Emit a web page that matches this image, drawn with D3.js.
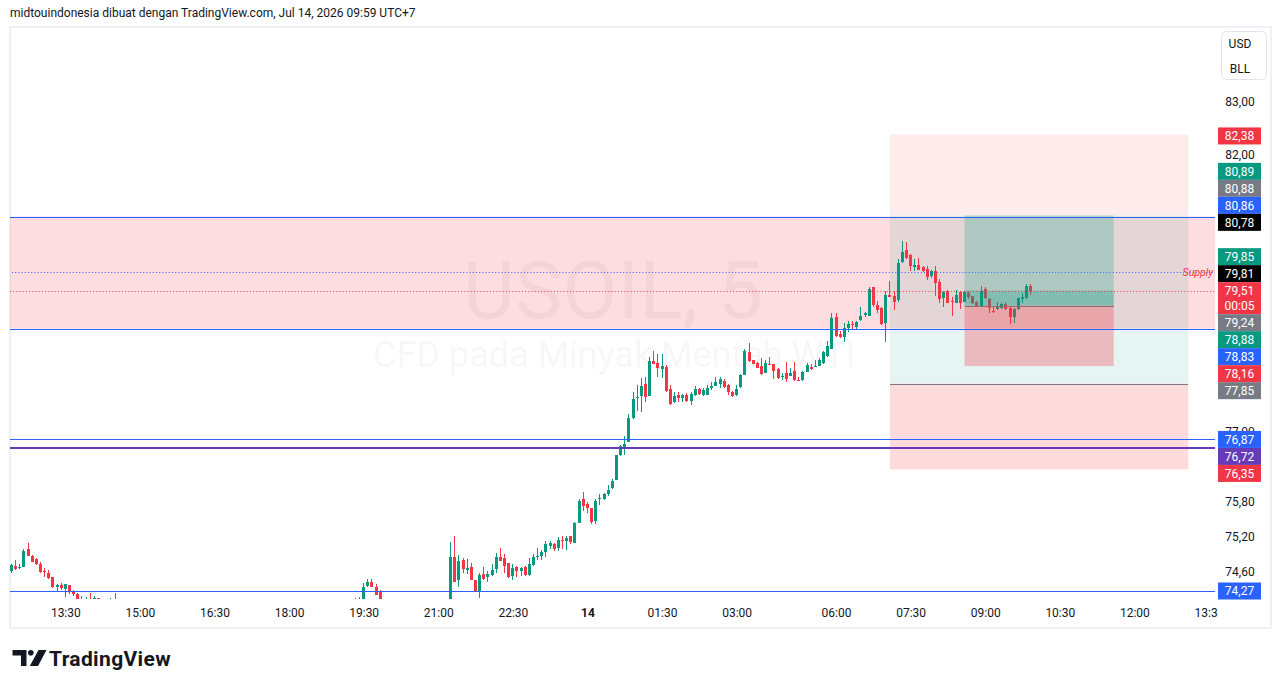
<!DOCTYPE html>
<html><head><meta charset="utf-8">
<script src="https://cdn.jsdelivr.net/npm/d3@7/dist/d3.min.js"></script>
<style>html,body{margin:0;padding:0;background:#fff;}svg{display:block;}</style>
</head><body>
<svg id="chart" width="1281" height="688"></svg>
<script>
// ================= DATA =================
// 5-minute candles (Jul 13 -> Jul 14 2026, UTC+7); candles hidden below the visible range are omitted
const times = [
"12:25","12:30","12:35","12:40","12:45","12:50","12:55","13:00","13:05","13:10","13:15","13:20",
"13:25","13:30","13:35","13:40","13:45","13:50","13:55","14:00","14:05","14:10","14:25","14:30",
"19:20","19:25","19:30","19:35","19:40","19:45","19:50",
"21:15","21:20","21:25","21:30","21:35","21:40","21:45","21:50","21:55",
"22:00","22:05","22:10","22:15","22:20","22:25","22:30","22:35","22:40","22:45","22:50","22:55",
"23:00","23:05","23:10","23:15","23:20","23:25","23:30","23:35","23:40","23:45","23:50","23:55",
"00:00","00:05","00:10","00:15","00:20","00:25","00:30","00:35","00:40","00:45","00:50","00:55",
"01:00","01:05","01:10","01:15","01:20","01:25","01:30","01:35","01:40","01:45","01:50","01:55",
"02:00","02:05","02:10","02:15","02:20","02:25","02:30","02:35","02:40","02:45","02:50","02:55",
"03:00","03:05","03:10","03:15","03:20","03:25","03:30","03:35","03:40","03:45","03:50","03:55",
"05:00","05:05","05:10","05:15","05:20","05:25","05:30","05:35","05:40","05:45","05:50","05:55",
"06:00","06:05","06:10","06:15","06:20","06:25","06:30","06:35","06:40","06:45","06:50","06:55",
"07:00","07:05","07:10","07:15","07:20","07:25","07:30","07:35","07:40","07:45","07:50","07:55",
"08:00","08:05","08:10","08:15","08:20","08:25","08:30","08:35","08:40","08:45","08:50","08:55",
"09:00","09:05","09:10","09:15","09:20","09:25","09:30","09:35","09:40","09:45","09:50","09:55"
];
const opens = [
74.60,74.69,74.66,74.68,74.98,74.87,74.81,74.72,74.61,74.57,74.50,74.33,
74.37,74.30,74.37,74.26,74.22,74.13,74.07,74.12,74.14,74.15,74.06,74.12,
74.07,74.08,74.08,74.36,74.43,74.34,74.27,
74.02,74.85,74.46,74.80,74.63,74.67,74.46,74.26,74.56,
74.50,74.54,74.65,74.85,74.83,74.74,74.53,74.68,74.61,74.68,74.54,74.71,
74.84,74.87,74.93,75.04,75.06,75.00,75.14,75.12,75.20,75.09,75.43,75.84,
75.75,75.68,75.46,75.83,75.84,75.93,76.02,76.17,76.59,76.73,76.83,77.24,
77.60,77.64,77.84,77.64,78.25,78.22,78.11,78.15,77.75,77.52,77.65,77.60,
77.65,77.54,77.65,77.75,77.65,77.65,77.78,77.81,77.84,77.90,77.83,77.71,
77.65,77.79,78.00,78.41,78.27,78.22,78.16,78.03,78.20,78.19,78.11,77.96,
78.04,77.99,78.07,77.91,77.91,78.05,78.15,78.15,78.17,78.21,78.34,78.46,
79.04,78.73,78.67,78.84,78.91,78.86,78.98,79.07,79.06,79.57,79.25,79.20,
78.93,79.43,79.41,79.34,80.03,80.24,80.16,79.93,79.98,79.94,79.90,79.78,
79.86,79.66,79.37,79.50,79.32,79.29,79.48,79.31,79.46,79.41,79.31,79.23,
79.54,79.36,79.15,79.18,79.19,79.27,79.20,79.03,79.18,79.36,79.37,79.60
];
const highs = [
74.73,74.79,74.73,74.98,75.08,74.88,74.83,74.76,74.66,74.63,74.51,74.39,
74.40,74.39,74.37,74.29,74.24,74.19,74.17,74.24,74.18,74.16,74.15,74.23,
74.15,74.17,74.40,74.47,74.47,74.39,74.28,
75.10,75.20,74.88,74.82,74.81,74.74,74.46,74.57,74.67,
74.61,74.72,74.91,75.00,74.89,74.75,74.72,74.70,74.68,74.69,74.82,74.89,
74.99,74.97,75.11,75.12,75.08,75.18,75.20,75.21,75.21,75.44,75.83,75.96,
75.78,75.69,75.83,75.93,75.94,76.08,76.19,76.60,76.77,76.93,77.31,77.71,
77.83,77.95,77.96,78.32,78.43,78.37,78.38,78.18,77.83,77.71,77.70,77.67,
77.68,77.70,77.80,77.77,77.78,77.83,77.88,77.96,77.96,77.94,77.84,77.72,
77.83,78.02,78.46,78.57,78.27,78.24,78.31,78.26,78.33,78.19,78.13,78.03,
78.24,78.13,78.24,77.97,78.07,78.22,78.19,78.27,78.30,78.43,78.60,79.10,
79.11,78.79,78.93,78.97,78.97,78.96,79.22,79.13,79.57,79.58,79.32,79.21,
79.50,79.69,79.50,80.09,80.41,80.39,80.17,80.08,80.10,79.95,79.96,79.88,
79.96,79.72,79.50,79.52,79.40,79.52,79.51,79.50,79.50,79.42,79.32,79.59,
79.57,79.37,79.21,79.31,79.28,79.31,79.21,79.19,79.38,79.47,79.63,79.63
];
const lows = [
74.58,74.63,74.64,74.67,74.86,74.76,74.71,74.58,74.51,74.47,74.32,74.25,
74.29,74.17,74.22,74.19,74.07,74.02,74.05,74.03,74.10,74.12,74.03,74.03,
74.05,74.06,74.05,74.34,74.33,74.20,74.05,
73.98,74.42,74.34,74.57,74.55,74.45,74.26,74.16,74.46,
74.42,74.53,74.57,74.77,74.58,74.49,74.46,74.51,74.52,74.52,74.53,74.69,
74.80,74.80,74.85,74.98,74.94,74.94,74.98,74.97,75.07,75.08,75.43,75.63,
75.59,75.40,75.41,75.74,75.82,75.89,76.01,76.16,76.58,76.60,76.83,77.23,
77.36,77.35,77.53,77.63,78.19,77.97,77.95,77.71,77.48,77.51,77.53,77.53,
77.53,77.48,77.64,77.65,77.64,77.65,77.74,77.80,77.78,77.78,77.65,77.61,
77.63,77.78,78.00,78.23,78.19,78.13,78.01,78.03,78.18,77.94,77.94,77.91,
77.87,77.98,77.90,77.89,77.90,78.05,78.09,78.15,78.16,78.20,78.33,78.46,
78.67,78.66,78.58,78.76,78.83,78.83,78.97,79.04,79.05,79.22,79.11,78.90,
78.58,79.39,79.16,79.31,80.01,80.09,79.86,79.86,79.88,79.85,79.71,79.74,
79.42,79.28,79.22,79.28,79.06,79.28,79.18,79.30,79.36,79.27,79.22,79.22,
79.36,79.11,79.11,79.17,79.18,79.17,78.91,78.93,79.17,79.29,79.36,79.43
];
const closes = [
74.71,74.64,74.68,74.95,74.87,74.76,74.73,74.59,74.60,74.49,74.33,74.37,
74.32,74.39,74.26,74.22,74.08,74.05,74.12,74.05,74.15,74.13,74.11,74.05,
74.12,74.13,74.34,74.43,74.34,74.21,74.08,
74.84,74.43,74.78,74.65,74.66,74.46,74.27,74.54,74.47,
74.56,74.63,74.85,74.78,74.69,74.50,74.66,74.60,74.66,74.54,74.72,74.85,
74.87,74.93,75.06,75.08,74.98,75.14,75.13,75.17,75.10,75.43,75.81,75.72,
75.68,75.44,75.80,75.86,75.92,75.99,76.15,76.59,76.76,76.79,77.24,77.57,
77.61,77.80,77.62,78.25,78.19,78.12,78.17,77.72,77.49,77.64,77.60,77.65,
77.54,77.66,77.75,77.66,77.73,77.77,77.81,77.87,77.93,77.79,77.70,77.63,
77.75,78.01,78.43,78.25,78.19,78.13,78.02,78.22,78.19,78.08,77.95,77.99,
77.94,78.04,77.91,77.90,78.06,78.18,78.11,78.17,78.26,78.41,78.51,79.01,
78.70,78.67,78.84,78.91,78.90,78.95,79.06,79.10,79.54,79.25,79.16,78.91,
79.43,79.40,79.31,80.01,80.21,80.10,79.95,79.98,79.89,79.86,79.75,79.87,
79.65,79.36,79.48,79.29,79.31,79.44,79.29,79.48,79.40,79.28,79.23,79.50,
79.37,79.19,79.14,79.22,79.27,79.18,79.03,79.18,79.37,79.39,79.60,79.51
];

// time axis
const xTickTimes  = ["13 13:30","13 15:00","13 16:30","13 18:00","13 19:30","13 21:00","13 22:30","14 00:00","14 01:30","14 03:00","14 06:00","14 07:30","14 09:00","14 10:30","14 12:00","14 13:30"];
const xTickLabels = ["13:30","15:00","16:30","18:00","19:30","21:00","22:30","14","01:30","03:00","06:00","07:30","09:00","10:30","12:00","13:30"];
// price axis (log scale) - visible tick labels
const yTickValues = [83, 82, 77, 75.8, 75.2, 74.6];

// drawings
const supplyZone      = [80.86, 78.83];
const bigToolTimes    = ["14 07:05", "14 13:05"];
const bigToolStop     = [82.38, 80.88];
const bigToolTarget   = [80.88, 77.85];
const lowerZone       = [77.85, 76.35];
const smallToolTimes  = ["14 08:35", "14 11:35"];
const smallToolProfit = [80.88, 79.24];
const smallToolLoss   = [79.24, 78.16];
const currentPrice    = 79.51;
const countdown       = "00:05";
const blueLines       = [80.86, 78.83, 76.87, 74.27];
const purpleLine      = 76.72;
const blueDotted      = 79.85;

// right-axis price labels
const labelPrices = [82.38,80.89,80.88,80.86,80.78,79.85,79.81,79.51,79.24,78.88,78.83,78.16,77.85,76.87,76.72,76.35,74.27];
const labelColors = ["#F23645","#089981","#787B86","#2962FF","#000000","#089981","#000000","#F23645","#787B86","#089981","#2962FF","#F23645","#787B86","#2962FF","#673AB7","#F23645","#2962FF"];

// ================= CHART =================
const FONT = 'Roboto, "Liberation Sans", Arial, sans-serif';
const TXT = "#131722", UP = "#089981", DOWN = "#F23645", BLUE = "#2962FF";
const plot = {l: 10, r: 1215, t: 27, b: 599};
const svg = d3.select("#chart").style("font-family", FONT);

function barIndex(day, hm) {
  const [h, m] = hm.split(":").map(Number);
  const mins = (day - 13) * 1440 + h * 60 + m - 810;   // minutes since 13 Jul 13:30
  let b = mins / 5;
  if (mins >= 870) b -= 12;                             // daily break 04:00-05:00 has no bars
  return b;
}
const idxOf = s => { const [d, hm] = s.split(" "); return barIndex(+d, hm); };
let day = 13, prev = -1;
const candles = times.map((t, k) => {
  const [h, m] = t.split(":").map(Number); const v = h * 60 + m;
  if (v < prev) day++; prev = v;
  return {i: barIndex(day, t), o: opens[k], h: highs[k], l: lows[k], c: closes[k]};
});

const x = d3.scaleLinear().domain([-13.35, 277.45]).range([plot.l, plot.r]);
const y = d3.scaleLog().domain([74.27, 80.86]).range([591, 216.5]);

// frame
svg.append("rect").attr("x", 10).attr("y", 27).attr("width", 1261).attr("height", 601)
  .attr("fill", "#fff").attr("stroke", "#eff0f3").attr("stroke-width", 2);

// header
svg.append("text").attr("x", 10).attr("y", 17).attr("font-size", 12).attr("fill", TXT)
  .text("midtouindonesia dibuat dengan TradingView.com, Jul 14, 2026 09:59 UTC+7");

const defs = svg.append("defs");
defs.append("clipPath").attr("id", "plotClip").append("rect")
  .attr("x", plot.l).attr("y", plot.t).attr("width", plot.r - plot.l).attr("height", plot.b - plot.t);
defs.append("clipPath").attr("id", "taxClip").append("rect")
  .attr("x", plot.l).attr("y", plot.b).attr("width", plot.r - plot.l + 3).attr("height", 28);
const g = svg.append("g").attr("clip-path", "url(#plotClip)");

// watermark
g.append("text").attr("x", 613).attr("y", 318).attr("text-anchor", "middle").attr("font-size", 80)
  .attr("fill", "rgba(0,0,0,0.045)").text("USOIL, 5");
g.append("text").attr("x", 614).attr("y", 367).attr("text-anchor", "middle").attr("font-size", 36)
  .attr("fill", "rgba(0,0,0,0.05)").text("CFD pada Minyak Mentah WTI");

function band(sel, x0, x1, p0, p1, fill) {
  sel.append("rect").attr("x", x0).attr("width", x1 - x0)
    .attr("y", y(Math.max(p0, p1))).attr("height", Math.abs(y(p0) - y(p1))).attr("fill", fill);
}
function hline(sel, x0, x1, p, color, thick) {
  sel.append("rect").attr("x", x0).attr("width", x1 - x0)
    .attr("y", Math.round(y(p)) - (thick > 1 ? 1 : 0)).attr("height", thick).attr("fill", color)
    .attr("shape-rendering", "crispEdges");
}
// supply zone
band(g, plot.l, plot.r, supplyZone[0], supplyZone[1], "rgba(242,54,69,0.17)");
// big position tool
const bx0 = x(idxOf(bigToolTimes[0])), bx1 = x(idxOf(bigToolTimes[1]));
band(g, bx0, bx1, bigToolStop[0], bigToolStop[1], "rgba(242,54,69,0.1)");
band(g, bx0, bx1, bigToolTarget[0], bigToolTarget[1], "rgba(8,153,129,0.1)");
band(g, bx0, bx1, lowerZone[0], lowerZone[1], "rgba(242,54,69,0.18)");
hline(g, bx0, bx1, lowerZone[0], "#787B86", 1);

// candles
const cg = g.append("g").attr("shape-rendering", "crispEdges");
candles.forEach(d => {
  const cx = Math.round(x(d.i) - 1.5);
  const col = d.c >= d.o ? UP : DOWN;
  cg.append("rect").attr("x", cx + 1).attr("width", 1)
    .attr("y", Math.round(y(d.h))).attr("height", Math.max(1, Math.round(y(d.l)) - Math.round(y(d.h))))
    .attr("fill", col);
  const top = Math.round(y(Math.max(d.o, d.c))), bot = Math.round(y(Math.min(d.o, d.c)));
  cg.append("rect").attr("x", cx).attr("width", 3).attr("y", top).attr("height", Math.max(1, bot - top))
    .attr("fill", col);
});

// small position tool (drawn over candles)
const sx0 = x(idxOf(smallToolTimes[0])), sx1 = x(idxOf(smallToolTimes[1]));
band(g, sx0, sx1, smallToolProfit[0], smallToolProfit[1], "rgba(8,153,129,0.24)");
band(g, sx0, sx1, currentPrice, smallToolProfit[1], "rgba(8,153,129,0.26)");
band(g, sx0, sx1, smallToolLoss[0], smallToolLoss[1], "rgba(242,54,69,0.3)");
hline(g, sx0, sx1, smallToolLoss[0], "#8a6d70", 1);

// horizontal lines
blueLines.forEach(p => hline(g, plot.l, plot.r, p, BLUE, 1));
hline(g, plot.l, plot.r, purpleLine, "#673AB7", 2);
g.append("line").attr("x1", 12).attr("x2", plot.r).attr("y1", Math.round(y(blueDotted)) + 0.5)
  .attr("y2", Math.round(y(blueDotted)) + 0.5).attr("stroke", BLUE).attr("stroke-width", 1)
  .attr("stroke-dasharray", "1,2.2");
g.append("line").attr("x1", plot.l).attr("x2", plot.r).attr("y1", Math.round(y(currentPrice)) + 0.5)
  .attr("y2", Math.round(y(currentPrice)) + 0.5).attr("stroke", DOWN).attr("stroke-width", 1)
  .attr("stroke-dasharray", "1,2.2");

// supply label
g.append("text").attr("x", 1213).attr("y", 276).attr("text-anchor", "end").attr("font-size", 10.5)
  .attr("font-style", "italic").attr("fill", DOWN).text("Supply");

// time axis
const taxWrap = svg.append("g").attr("clip-path", "url(#taxClip)");
const ax = taxWrap.append("g").attr("transform", `translate(0,${plot.b})`)
  .call(d3.axisBottom(x).tickValues(xTickTimes.map(idxOf)).tickSize(0).tickPadding(0)
    .tickFormat((d, k) => xTickLabels[k]));
ax.select(".domain").remove();
ax.selectAll("text").attr("font-family", FONT).attr("font-size", 12).attr("fill", TXT)
  .attr("dy", null).attr("y", 18)
  .attr("font-weight", (d, k) => xTickLabels[k] === "14" ? 700 : 400);

// price axis ticks
const ay = svg.append("g").attr("transform", "translate(1240,0)")
  .call(d3.axisRight(y).tickValues(yTickValues).tickSize(0).tickPadding(0)
    .tickFormat(d => d.toFixed(2).replace(".", ",")));
ay.select(".domain").remove();
ay.selectAll("text").attr("font-family", FONT).attr("font-size", 12).attr("fill", TXT)
  .attr("text-anchor", "middle").attr("x", 0);

// price labels with stacking
const BOX = 17, curK = labelPrices.indexOf(currentPrice);
const pos = labelPrices.map(p => y(p));
const centers = pos.slice();
let topEdge = pos[curK] - BOX / 2, botEdge = pos[curK] - BOX / 2 + 2 * BOX - 2;
for (let k = curK - 1; k >= 0; k--) { centers[k] = Math.min(pos[k] + 1.5, topEdge - BOX / 2); topEdge = centers[k] - BOX / 2; }
for (let k = curK + 1; k < pos.length; k++) { centers[k] = Math.max(pos[k], botEdge + BOX / 2); botEdge = centers[k] + BOX / 2; }
const lg = svg.append("g");
labelPrices.forEach((p, k) => {
  const h = k === curK ? 2 * BOX - 2 : BOX;
  lg.append("rect").attr("x", 1218).attr("width", 43).attr("y", centers[k] - BOX / 2).attr("height", h)
    .attr("fill", labelColors[k]);
  lg.append("text").attr("x", 1239.5).attr("y", centers[k] + 4.3).attr("text-anchor", "middle")
    .attr("font-size", 12).attr("fill", "#fff").text(p.toFixed(2).replace(".", ","));
  if (k === curK) lg.append("text").attr("x", 1239.5).attr("y", centers[k] + BOX - 2 + 4.3)
    .attr("text-anchor", "middle").attr("font-size", 12).attr("fill", "#fff").text(countdown);
});

// currency / unit button
svg.append("rect").attr("x", 1221.5).attr("y", 31.5).attr("width", 45).attr("height", 48).attr("rx", 5)
  .attr("fill", "#fff").attr("stroke", "#e0e3eb");
svg.append("text").attr("x", 1240).attr("y", 48).attr("text-anchor", "middle").attr("font-size", 12).attr("fill", TXT).text("USD");
svg.append("text").attr("x", 1240).attr("y", 73).attr("text-anchor", "middle").attr("font-size", 12).attr("fill", TXT).text("BLL");

// TradingView logo
const logo = svg.append("g").attr("fill", TXT);
logo.append("path").attr("d", "M12.5,650 H26.5 V666 H21 V655.5 H12.5 Z");
logo.append("circle").attr("cx", 30.8).attr("cy", 652.8).attr("r", 2.8);
logo.append("path").attr("d", "M38.5,650 H46.5 L38,666 H29.8 Z");
svg.append("text").attr("x", 49).attr("y", 665.5).attr("font-size", 21).attr("font-weight", 700)
  .attr("letter-spacing", 0.35).attr("fill", TXT).text("TradingView");
</script>
</body></html>
